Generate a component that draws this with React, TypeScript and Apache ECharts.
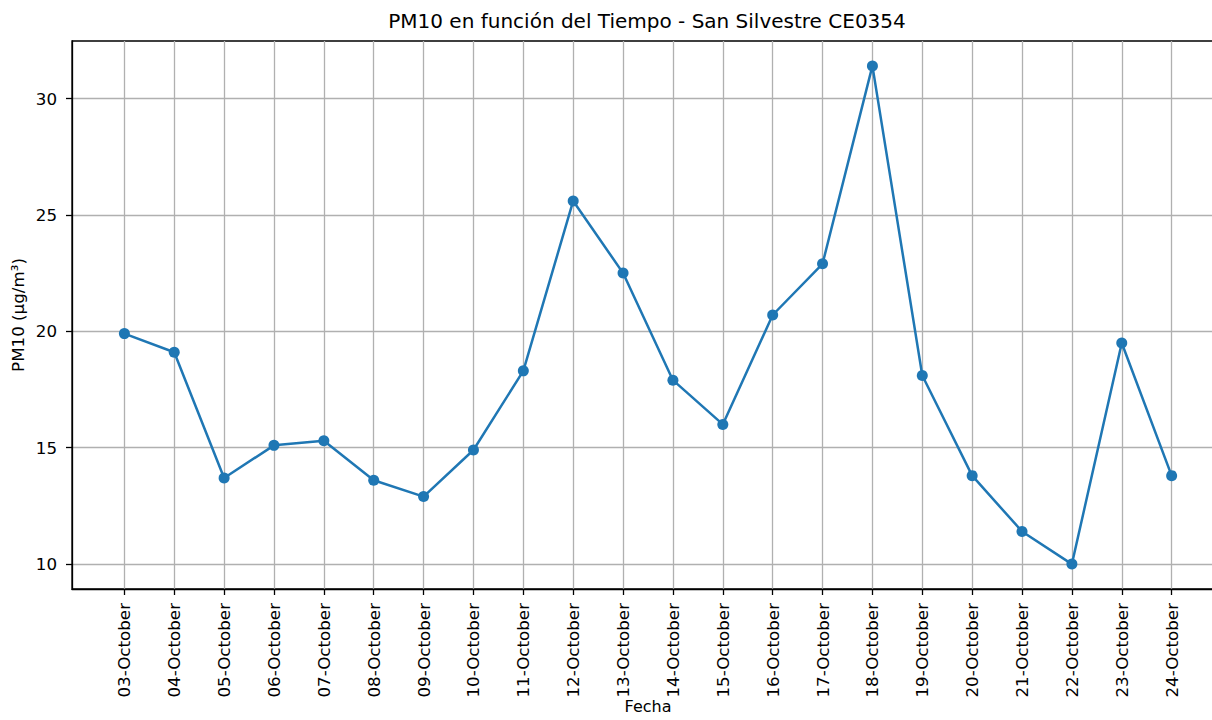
import React, { useEffect, useRef } from 'react';
import * as echarts from 'echarts';

const dates = [
  '03-October', '04-October', '05-October', '06-October', '07-October', '08-October',
  '09-October', '10-October', '11-October', '12-October', '13-October', '14-October',
  '15-October', '16-October', '17-October', '18-October', '19-October', '20-October',
  '21-October', '22-October', '23-October', '24-October',
];
const pm10 = [
  19.9, 19.1, 13.7, 15.1, 15.3, 13.6, 12.9, 14.9, 18.3, 25.6, 22.5,
  17.9, 16.0, 20.7, 22.9, 31.4, 18.1, 13.8, 11.4, 10.0, 19.5, 13.8,
];
const yTicks = [10, 15, 20, 25, 30];

const FONT = 'DejaVu Sans';

export default function App() {
  const ref = useRef<HTMLDivElement>(null);
  useEffect(() => {
    document.body.style.margin = '0';
    const chart = echarts.init(ref.current!, null, { renderer: 'svg' });
    const idx = dates.map((_, i) => i);
    chart.setOption({
      animation: false,
      backgroundColor: '#ffffff',
      title: {
        text: 'PM10 en función del Tiempo - San Silvestre CE0354',
        left: 647,
        textAlign: 'center',
        top: 11,
        padding: 0,
        textStyle: { fontFamily: FONT, fontSize: 20, fontWeight: 'normal', color: '#000' },
      },
      grid: {
        left: 72,
        top: 41,
        width: 1152,
        height: 548,
        show: true,
        borderColor: '#000',
        borderWidth: 1.3,
        backgroundColor: 'transparent',
        containLabel: false,
        outerBoundsMode: 'none',
      },
      xAxis: {
        type: 'value',
        min: -1.05,
        max: 22.05,
        name: 'Fecha',
        nameLocation: 'middle',
        nameGap: 109,
        nameMoveOverlap: false,
        nameTextStyle: { fontFamily: FONT, fontSize: 16, lineHeight: 16, color: '#000' },
        axisLine: { show: true, onZero: false, lineStyle: { color: '#000', width: 1.3 } },
        axisTick: { show: true, inside: false, length: 6, customValues: idx, lineStyle: { color: '#000', width: 1.3 } },
        axisLabel: {
          customValues: idx,
          rotate: 90,
          margin: 14,
          fontFamily: FONT,
          fontSize: 16.7,
          color: '#000',
          formatter: (v: number) => dates[Math.round(v)] ?? '',
        },
        splitLine: { show: true, lineStyle: { color: '#b0b0b0', width: 1.3 } },
      },
      yAxis: {
        type: 'value',
        min: 8.93,
        max: 32.47,
        name: 'PM10 (µg/m³)',
        nameLocation: 'middle',
        nameGap: 46,
        nameMoveOverlap: false,
        nameTextStyle: { fontFamily: FONT, fontSize: 16.7, color: '#000' },
        axisLine: { show: true, onZero: false, lineStyle: { color: '#000', width: 1.3 } },
        axisTick: { show: true, inside: false, length: 6, customValues: yTicks, lineStyle: { color: '#000', width: 1.3 } },
        axisLabel: {
          customValues: yTicks,
          margin: 15,
          fontFamily: FONT,
          fontSize: 16.7,
          color: '#000',
        },
        splitLine: { show: true, lineStyle: { color: '#b0b0b0', width: 1.3 } },
      },
      series: [
        {
          type: 'line',
          data: pm10.map((v, i) => [i, v]),
          symbol: 'circle',
          symbolSize: 11,
          showSymbol: true,
          itemStyle: { color: '#1f77b4' },
          lineStyle: { color: '#1f77b4', width: 2.5 },
          clip: false,
        },
      ],
    });
    return () => chart.dispose();
  }, []);
  return <div ref={ref} style={{ width: 1212, height: 720 }} />;
}
